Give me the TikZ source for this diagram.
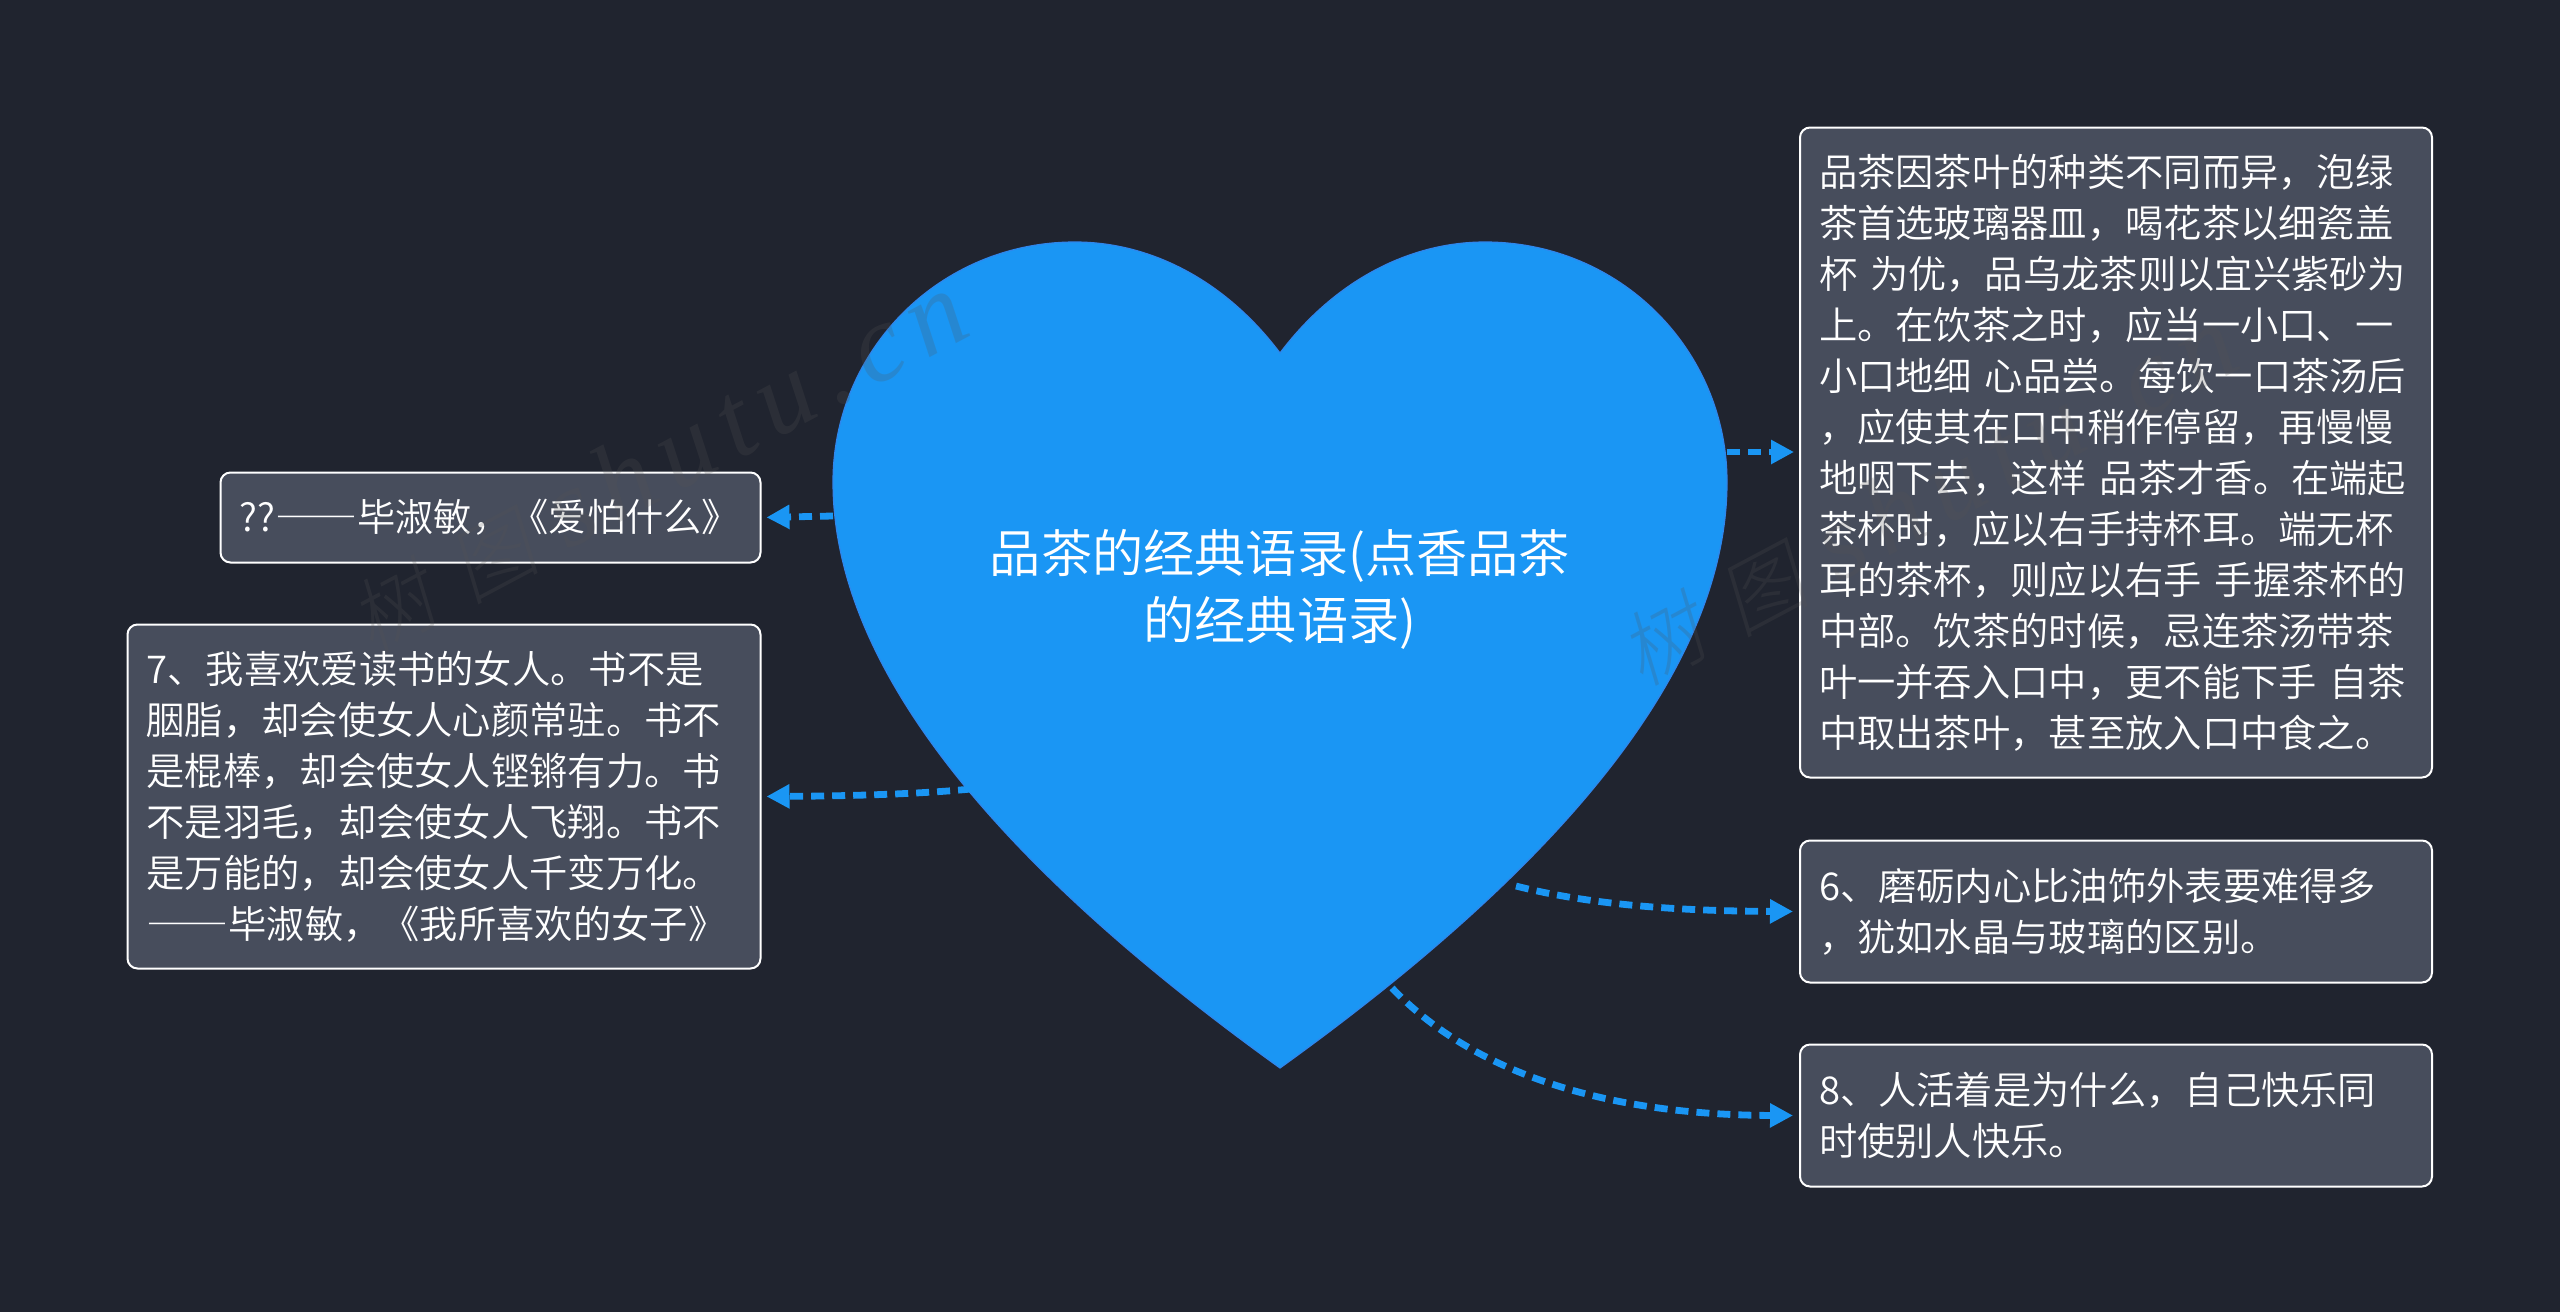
\documentclass[tikz,border=0pt]{standalone}
\usepackage{fontspec}
\usetikzlibrary{arrows.meta}
\setmainfont{Noto Sans CJK SC DemiLight}
\newfontfamily\wmlatin[LetterSpace=12]{Liberation Serif Italic}
\newfontfamily\wmcjk[FakeSlant=0.2]{Noto Sans CJK SC Light}
\newcommand{\dashes}{\scalebox{1.07}[1]{\addfontfeature{RawFeature=+fwid}——}}
\newcommand{\wmtext}{{\fontsize{41}{41}\wmcjk 树\kern15pt图\kern14pt}{\fontsize{55}{55}\wmlatin shutu.cn}}
\definecolor{bgc}{HTML}{20242F}
\definecolor{boxc}{HTML}{474D5C}
\definecolor{heartc}{HTML}{1A96F4}
\definecolor{heartedge}{HTML}{2F86EC}
\definecolor{wmc}{HTML}{555555}
\tikzset{
  x=0.5pt,y=-0.5pt,
  leaf/.style={draw=white,line width=1pt,fill=boxc,rounded corners=5pt,anchor=north west,align=left,
     text=white,font=\fontsize{19.15}{25.5}\selectfont,inner xsep=9.5pt,inner ysep=0pt},
  link/.style={draw=heartc,line width=3.4pt,dash pattern=on 6.5pt off 4pt,
     -{Triangle[length=11.5pt,width=11.5pt,fill=heartc,sep=0pt]}},
  wm/.style={text=wmc,opacity=0.22,anchor=base west,rotate=28,inner sep=0pt}
}
\begin{document}
\begin{tikzpicture}
\useasboundingbox[fill=bgc] (0,0) rectangle (2560,1312);
% heart
\path[fill=heartc,draw=heartedge,line width=0.6pt] (1280,1068)
  .. controls (1540,881) and (1727,680) .. (1727,482)
  .. controls (1727,350) and (1620,242) .. (1485,242)
  .. controls (1410,242) and (1335,280) .. (1280,353)
  .. controls (1225,280) and (1150,242) .. (1075,242)
  .. controls (940,242) and (833,350) .. (833,482)
  .. controls (833,680) and (1020,881) .. (1280,1068) -- cycle;
\node[text=white,align=center,font=\fontsize{25.6}{33.5}\selectfont] (root) at (1280,589.5) {品茶的经典语录(点香品茶\\的经典语录)};
% leaves
\node[leaf,minimum width=316pt,minimum height=325pt,text width=297pt] (a) at (1799,126.5) {品茶因茶叶的种类不同而异，泡绿\\茶首选玻璃器皿，喝花茶以细瓷盖\\杯 为优，品乌龙茶则以宜兴紫砂为\\上。在饮茶之时，应当一小口、一\\小口地细 心品尝。每饮一口茶汤后\\，应使其在口中稍作停留，再慢慢\\地咽下去，这样 品茶才香。在端起\\茶杯时，应以右手持杯耳。端无杯\\耳的茶杯，则应以右手 手握茶杯的\\中部。饮茶的时候，忌连茶汤带茶\\叶一并吞入口中，更不能下手 自茶\\中取出茶叶，甚至放入口中食之。};
\node[leaf,minimum width=316pt,minimum height=71pt,text width=297pt] (b) at (1799,839.5) {6、磨砺内心比油饰外表要难得多\\，犹如水晶与玻璃的区别。};
\node[leaf,minimum width=316pt,minimum height=71pt,text width=297pt] (c) at (1799,1043.5) {8、人活着是为什么，自己快乐同\\时使别人快乐。};
\node[leaf,minimum width=270pt,minimum height=45pt,text width=251pt] (d) at (219.5,471.5) {??\dashes 毕淑敏，《爱怕什么》};
\node[leaf,minimum width=316.5pt,minimum height=172pt,text width=297.5pt] (e) at (126.5,623.5) {7、我喜欢爱读书的女人。书不是\\胭脂，却会使女人心颜常驻。书不\\是棍棒，却会使女人铿锵有力。书\\不是羽毛，却会使女人飞翔。书不\\是万能的，却会使女人千变万化。\\\dashes 毕淑敏，《我所喜欢的女子》};
% anchors on heart outline
\coordinate (ha) at (1727,452);
\coordinate (hb) at (1516,886);
\coordinate (hc) at (1392,988);
\coordinate (hd) at (833,516);
\coordinate (he) at (971,789);
\coordinate (ta) at (a.west |- ha);
% connectors
\draw[link,shorten >=2.5pt] (ha) -- (ta);
\draw[link,shorten >=3pt] (hb) .. controls (1590,905) and (1680,911) .. (b.west);
\draw[link,shorten >=3pt] (hc) .. controls (1470,1070) and (1600,1115) .. (c.west);
\draw[link,shorten >=2.5pt] (hd) -- (d.east);
\draw[link,shorten >=2.5pt] (he) .. controls (920,794) and (850,796) .. (e.east);
\node[wm] (w1) at (371,655) {\wmtext};
\node[wm] (w2) at (1641,688) {\wmtext};
\end{tikzpicture}
\end{document}
